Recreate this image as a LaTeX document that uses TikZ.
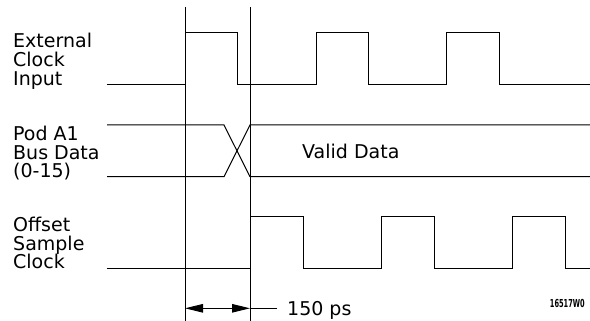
\documentclass[tikz,border=0pt]{standalone}
\usepackage{fontspec}
\setmainfont{DejaVu Sans}
\usetikzlibrary{arrows.meta}
\begin{document}
\begin{tikzpicture}[x=1pt,y=-1pt,
  lbl/.style={anchor=base west, inner sep=0pt, font=\fontsize{19}{20}\selectfont},
  sig/.style={line width=1pt, line join=miter},
  dim/.style={line width=1pt, {Triangle[length=18pt,width=8.5pt]}-{Triangle[length=18pt,width=8.5pt]}}]
\useasboundingbox (0,0) rectangle (590,321);
\fill[white] (0,0) rectangle (590,321);
% labels
\node[lbl] (l1) at (13,48) {External};
\node[lbl] (l2) at (13,67) {Clock};
\node[lbl] (l3) at (13,86) {Input};
\node[lbl] (l4) at (13,141) {Pod A1};
\node[lbl] (l5) at (13,160) {Bus Data};
\node[lbl] (l6) at (13,178) {(0-15)};
\node[lbl] (l7) at (13,231.5) {Offset};
\node[lbl] (l8) at (13,250) {Sample};
\node[lbl] (l9) at (13,268.3) {Clock};
\node[lbl] (vd) at (302,158) {Valid Data};
\node[lbl] (ps) at (287,315) {150 ps};
\node[anchor=base east, inner sep=0pt, font=\fontsize{11}{12}\selectfont\bfseries] (fig) at (585,307) {\scalebox{0.6}[1]{16517W0}};
% vertical markers
\draw[sig] (185,7) -- (185,321);
\draw[sig] (250,7) -- (250,321);
% external clock
\draw[sig] (107,85) -- (185,85) -- (185,33) -- (237.7,33) -- (237.7,85) -- (316.7,85) -- (316.7,33) -- (368.7,33) -- (368.7,85) -- (446.7,85) -- (446.7,33) -- (499.3,33) -- (499.3,85) -- (590,85);
% bus data
\draw[sig] (107,125) -- (224,125) -- (250,176.7) -- (590,176.7);
\draw[sig] (107,176.7) -- (224,176.7) -- (250,125) -- (590,125);
% offset sample clock
\draw[sig] (107,268.3) -- (250,268.3) -- (250,216.7) -- (303.3,216.7) -- (303.3,268.3) -- (381.7,268.3) -- (381.7,216.7) -- (434.3,216.7) -- (434.3,268.3) -- (512.3,268.3) -- (512.3,216.7) -- (565,216.7) -- (565,268.3) -- (590,268.3);
% dimension
\coordinate (da) at (185,308.3);
\coordinate (db) at (250,308.3);
\coordinate (dc) at (277,308.3);
\draw[dim] (da) -- (db);
\draw[sig] (db) -- (dc);
\end{tikzpicture}
\end{document}
